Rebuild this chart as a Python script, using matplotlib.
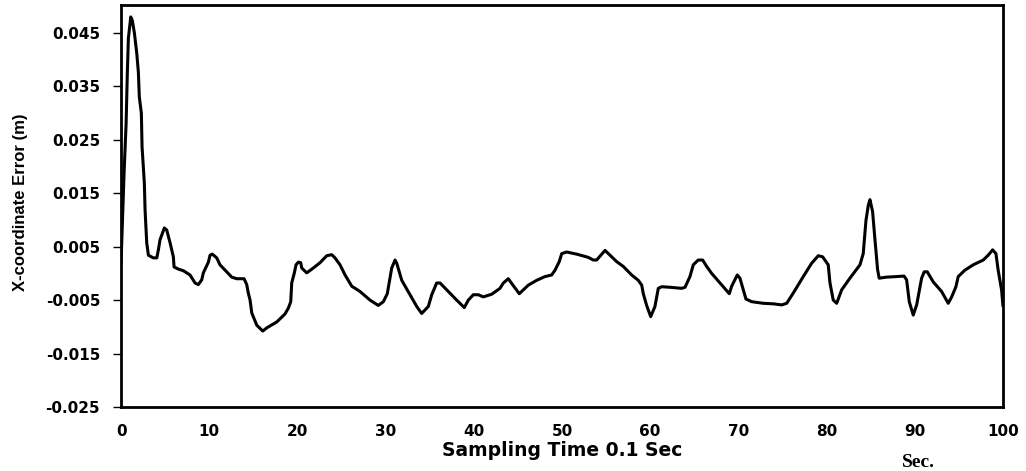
import numpy as np
import matplotlib
matplotlib.use("Agg")
import matplotlib.pyplot as plt

# sample index (0.1 s steps) and x-coordinate error (m)
t = [0.0, 0.34, 0.57, 0.71, 0.83, 1.10, 1.28, 1.51, 1.78, 1.96, 2.07, 2.30, 2.38,
     2.64, 2.72, 2.91, 3.10, 3.66, 4.05, 4.23, 4.42, 4.91, 5.18, 5.56, 5.93, 6.01,
     6.50, 7.06, 7.82, 8.39, 8.76, 9.15, 9.33, 9.90, 10.09, 10.35, 10.85, 11.22,
     11.98, 12.55, 13.12, 13.95, 14.25, 14.43, 14.63, 14.82, 15.39, 16.07, 16.52,
     17.65, 18.59, 18.97, 19.24, 19.35, 19.65, 19.84, 20.10, 20.37, 20.49, 21.05,
     21.80, 22.56, 23.32, 23.89, 24.26, 24.83, 25.40, 26.16, 27.10, 28.23, 29.17,
     29.74, 30.19, 30.42, 30.69, 31.07, 31.26, 31.83, 32.77, 33.53, 34.09, 34.84,
     35.23, 35.79, 36.17, 37.11, 38.06, 38.92, 39.38, 39.94, 40.51, 41.08, 42.03,
     42.97, 43.35, 43.91, 44.48, 45.16, 45.61, 46.18, 47.13, 48.07, 48.83, 49.21,
     49.69, 49.97, 50.53, 51.67, 52.98, 53.55, 53.93, 54.88, 55.44, 56.20, 56.95,
     57.90, 58.65, 59.04, 59.22, 59.60, 60.06, 60.54, 60.92, 61.30, 62.24, 63.57,
     63.95, 64.51, 64.89, 65.45, 65.95, 66.41, 66.97, 67.91, 68.97, 69.24, 69.88,
     70.18, 70.56, 70.86, 71.51, 72.82, 73.96, 74.91, 75.48, 76.22, 77.36, 78.31,
     79.06, 79.56, 80.19, 80.39, 80.76, 81.15, 81.71, 82.65, 83.79, 84.16, 84.47,
     84.73, 84.92, 85.22, 85.49, 85.79, 85.97, 86.81, 87.95, 88.78, 89.08, 89.38,
     89.83, 90.22, 90.78, 91.08, 91.42, 92.10, 93.05, 93.80, 94.19, 94.67, 94.93,
     95.69, 96.63, 97.77, 98.33, 98.83, 99.21, 99.46, 99.85, 100.0]
err = [0.0020, 0.0188, 0.0280, 0.0375, 0.0440, 0.0480, 0.0473, 0.0450, 0.0412,
       0.0377, 0.0330, 0.0300, 0.0237, 0.0169, 0.0119, 0.0057, 0.0034, 0.0029,
       0.0029, 0.0044, 0.0063, 0.0085, 0.0081, 0.0057, 0.0031, 0.0012, 0.0008,
       0.0005, -0.0003, -0.0018, -0.0021, -0.0012, 0.0001, 0.0021, 0.0034, 0.0036,
       0.0029, 0.0016, 0.0003, -0.0007, -0.0010, -0.0010, -0.0021, -0.0037, -0.0050,
       -0.0074, -0.0097, -0.0108, -0.0102, -0.0091, -0.0076, -0.0065, -0.0053,
       -0.0018, 0.0001, 0.0016, 0.0021, 0.0020, 0.0010, 0.0001, 0.0010, 0.0020,
       0.0033, 0.0035, 0.0029, 0.0016, -0.0003, -0.0024, -0.0034, -0.0050, -0.0060,
       -0.0053, -0.0038, -0.0016, 0.0010, 0.0025, 0.0019, -0.0013, -0.0040, -0.0062,
       -0.0075, -0.0062, -0.0040, -0.0018, -0.0018, -0.0034, -0.0050, -0.0064,
       -0.0050, -0.0040, -0.0040, -0.0044, -0.0039, -0.0028, -0.0018, -0.0010,
       -0.0023, -0.0038, -0.0031, -0.0022, -0.0013, -0.0006, -0.0003, 0.0006,
       0.0022, 0.0037, 0.0040, 0.0036, 0.0030, 0.0025, 0.0025, 0.0043, 0.0034,
       0.0022, 0.0013, -0.0003, -0.0013, -0.0022, -0.0038, -0.0060, -0.0081,
       -0.0062, -0.0028, -0.0025, -0.0026, -0.0028, -0.0026, -0.0006, 0.0016,
       0.0025, 0.0025, 0.0013, 0.0000, -0.0018, -0.0038, -0.0024, -0.0003, -0.0009,
       -0.0031, -0.0048, -0.0053, -0.0056, -0.0057, -0.0059, -0.0056, -0.0037,
       -0.0006, 0.0019, 0.0033, 0.0031, 0.0016, -0.0018, -0.0050, -0.0056, -0.0031,
       -0.0009, 0.0016, 0.0037, 0.0099, 0.0127, 0.0138, 0.0116, 0.0063, 0.0007,
       -0.0009, -0.0007, -0.0006, -0.0005, -0.0012, -0.0053, -0.0078, -0.0059,
       -0.0009, 0.0003, 0.0003, -0.0016, -0.0034, -0.0056, -0.0044, -0.0025,
       -0.0006, 0.0006, 0.0016, 0.0025, 0.0034, 0.0044, 0.0037, 0.0006, -0.0031,
       -0.0060]

yticks = [-0.025, -0.015, -0.005, 0.005, 0.015, 0.025, 0.035, 0.045]
xticks = [0, 10, 20, 30, 40, 50, 60, 70, 80, 90, 100]

# wide bold face for ticks/xlabel (the original text looks stretched sideways)
plt.rcParams['font.family'] = ['DejaVu Sans']

fig = plt.figure(figsize=(10.26, 4.71), dpi=100)
ax = fig.add_axes([0.118, 0.136, 0.8595, 0.853])

ax.plot(t, err, color='black', linewidth=2.2)

ax.set_xlim(0, 100)
ax.set_ylim(-0.025, 0.0502)
ax.set_xticks(xticks)
ax.set_yticks(yticks)
ax.set_yticklabels(["%.3f" % v for v in yticks])
ax.tick_params(axis='x', length=0, pad=12, labelsize=11)
ax.tick_params(axis='y', length=6, width=1, pad=9, labelsize=11, direction='out')
for lbl in ax.get_xticklabels() + ax.get_yticklabels():
    lbl.set_fontweight('bold')
for s in ax.spines.values():
    s.set_linewidth(2)

ax.set_xlabel("Sampling Time 0.1 Sec", fontsize=13.5, fontweight='bold', labelpad=2)
ax.set_ylabel("X-coordinate Error (m)", fontsize=12, fontweight='bold',
              family=['Liberation Sans'])
ax.yaxis.set_label_coords(-0.105, 0.51)
fig.text(0.895, 0.019, "Sec.", fontsize=14, fontweight='bold',
         family='Liberation Serif', ha='center', va='center')

fig.savefig("out.png", dpi=100)
